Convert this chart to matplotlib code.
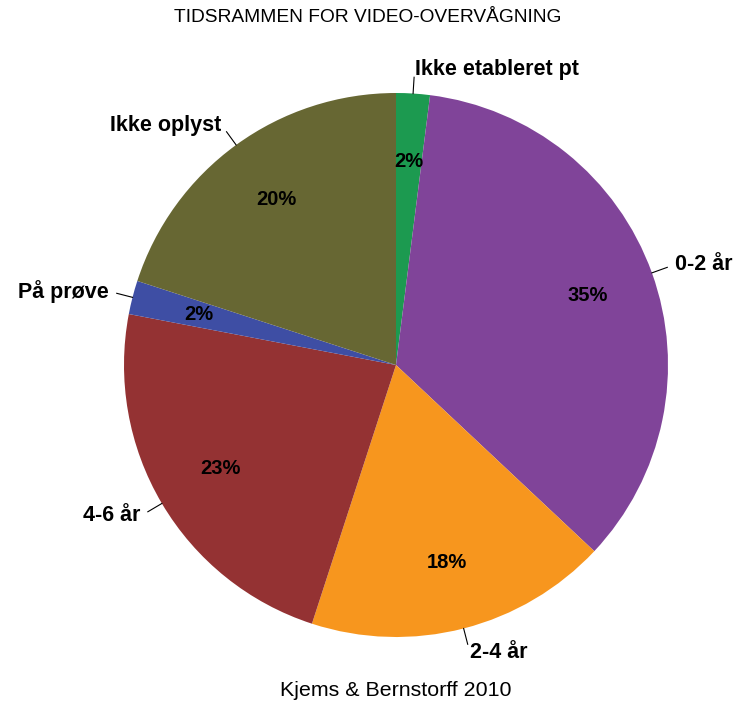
import numpy as np
import matplotlib
matplotlib.use("Agg")
import matplotlib.pyplot as plt

plt.rcParams['font.family'] = ['Liberation Sans', 'DejaVu Sans']

# andele i procent, med uret fra kl. 12
kategorier = ["Ikke etableret pt", "0-2 år", "2-4 år", "4-6 år", "På prøve", "Ikke oplyst"]
andele = [2, 35, 18, 23, 2, 20]
farver = ["#1c9a50", "#804499", "#f7961e", "#943233", "#3e4ea4", "#676733"]

W, H = 739, 705
cx, cy, R = 396, 365, 272  # centrum og radius i pixels

fig = plt.figure(figsize=(W / 100, H / 100), dpi=100)
ax = fig.add_axes([0, 0, 1, 1])

wedges, tekster, pct = ax.pie(
    andele, colors=farver, startangle=90, counterclock=False,
    labels=kategorier, labeldistance=1.09,
    autopct=lambda p: f"{p:.0f}%", pctdistance=0.75,
    wedgeprops=dict(linewidth=0),
    textprops=dict(fontsize=15.5, fontweight='bold', color='black'),
)
for t in pct:
    t.set_fontsize(14.5)

# korte streger fra kanten ud mod teksten
for w in wedges:
    vinkel = np.deg2rad((w.theta1 + w.theta2) / 2)
    c, s = np.cos(vinkel), np.sin(vinkel)
    ax.plot([1.0 * c, 1.06 * c], [1.0 * s, 1.06 * s], color='black', lw=0.8)

ax.set_xlim(-cx / R, (W - cx) / R)
ax.set_ylim(-(H - cy) / R, cy / R)
ax.set_aspect('auto')
ax.axis('off')

fig.text(368 / W, 1 - 18 / H, "TIDSRAMMEN FOR VIDEO-OVERVÅGNING",
         ha='center', va='center', fontsize=13.8)
fig.text(cx / W, 1 - 690 / H, "Kjems & Bernstorff 2010",
         ha='center', va='center', fontsize=15.4)

fig.savefig("out.png", dpi=100)
